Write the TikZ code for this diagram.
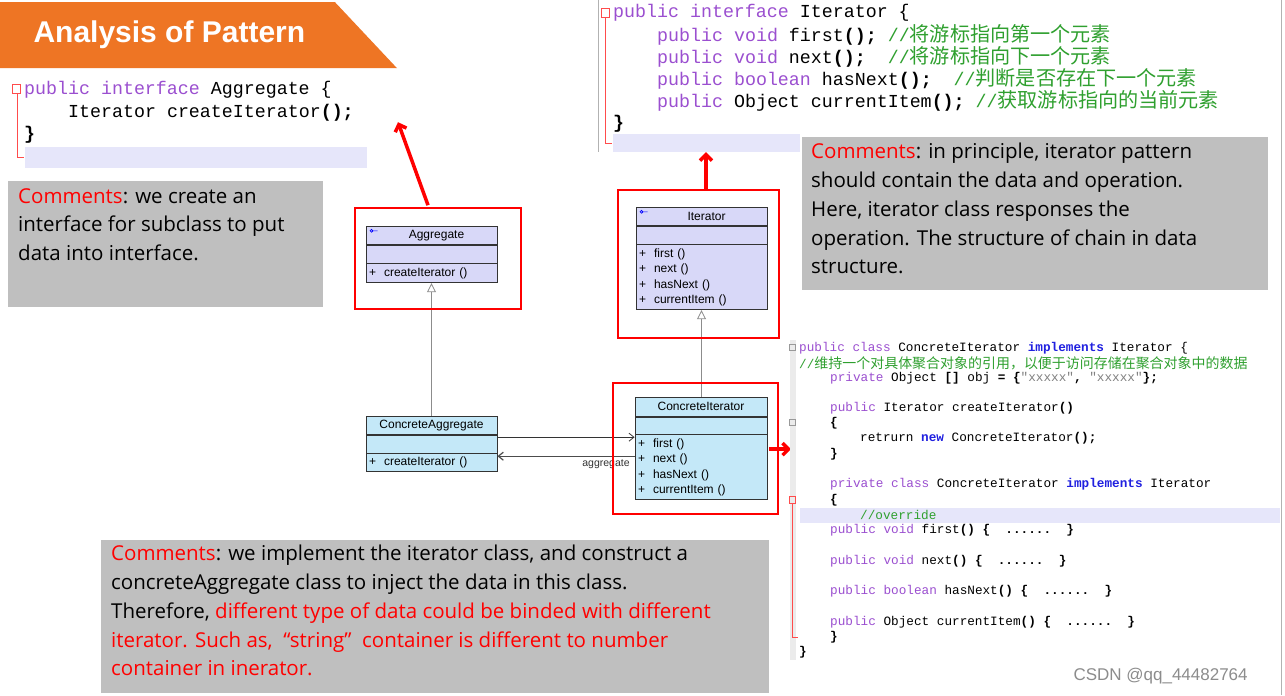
\documentclass[tikz,border=0pt]{standalone}
\usepackage{fontspec}
\setmainfont{Liberation Sans}
\newfontfamily\cjk{Noto Sans CJK SC}[Scale=1.1]
\newfontfamily\mono{Liberation Mono}
\newfontfamily\osans{Open Sans}
\usetikzlibrary{arrows.meta,positioning}
\definecolor{kw}{HTML}{9B4FD0}
\definecolor{cm}{HTML}{2FA02F}
\definecolor{bk}{HTML}{2020E0}
\definecolor{hl}{HTML}{E6E6FA}
\definecolor{gbox}{HTML}{BFBFBF}
\definecolor{lav}{HTML}{D8D8F8}
\definecolor{blu}{HTML}{C4E8F8}
\definecolor{org}{HTML}{EE7524}
\newcommand{\K}[1]{\textcolor{kw}{#1}}
\newcommand{\C}[1]{\textcolor{cm}{#1}}
\newcommand{\B}[1]{\textcolor{bk}{\bfseries #1}}
\newcommand{\R}[1]{\textcolor{red}{#1}}
\begin{document}
\begin{tikzpicture}[x=1pt,y=-1pt,
  code/.style={anchor=west,inner sep=0pt,font=\mono\fontsize{18.3}{19}\selectfont},
  scode/.style={anchor=west,inner sep=0pt,font=\mono\fontsize{12.7}{14}\selectfont},
  gb/.style={fill=gbox,anchor=north west,inner sep=0pt},
  ct/.style={anchor=north west,inner sep=0pt,align=left,font=\osans\fontsize{20.5}{28.7}\selectfont},
  cls/.style={draw=black!80,line width=0.8pt,fill=#1,minimum width=131pt,inner sep=0pt,font=\fontsize{12}{14}\selectfont},
  redbox/.style={draw=red,line width=2pt},
  redarrow/.style={draw=red,line width=3.5pt,-{Straight Barb[length=6pt,width=12pt]}},
  uml/.style={draw=black!45,line width=0.8pt}]
\fill[white] (0,0) rectangle (1285,695);
\draw[black!30] (1281,0) -- (1281,695);
% title
\fill[org] (0,2) -- (335,2) -- (397,68) -- (0,68) -- cycle;
\node[anchor=west,text=white,font=\bfseries\fontsize{30}{32}\selectfont] (title) at (30,35) {Analysis of Pattern};
% Aggregate code
\fill[hl] (25,147) rectangle (367,168);
\draw[red!70] (12,84) rectangle (20,93);\draw[red!70] (17,93) -- (17,157) -- (24,157);
\node[code] (a1) at (24,90) {\K{public interface} Aggregate \{};
\node[code] (a2) at (68,113) {Iterator createIterator\textbf{();}};
\node[code] (a3) at (24,135) {\textbf{\}}};
% Iterator code
\fill[hl] (613,134) rectangle (800,152);
\draw[black!30] (598,0) -- (598,152);
\draw[red!70] (601,8) rectangle (609,17);\draw[red!70] (605,17) -- (605,143) -- (612,143);
\node[code] (i1) at (613,13) {\K{public interface} Iterator \{};
\node[code] (i2) at (657,35) {\K{public void} first\textbf{();} \C{//{\cjk 将游标指向第一个元素}}};
\node[code] (i3) at (657,57) {\K{public void} next\textbf{();}\ \ \C{//{\cjk 将游标指向下一个元素}}};
\node[code] (i4) at (657,79) {\K{public boolean} hasNext\textbf{();}\ \ \C{//{\cjk 判断是否存在下一个元素}}};
\node[code] (i5) at (657,101) {\K{public} Object currentItem\textbf{();} \C{//{\cjk 获取游标指向的当前元素}}};
\node[code] (i6) at (613,124) {\textbf{\}}};
% comments
\node[gb,minimum width=315pt,minimum height=126pt] (c1) at (8,181) {};
\node[ct] (t1) at (18,188) {\R{Comments}: we create an\\interface for subclass to put\\data into interface.};
\node[gb,minimum width=466pt,minimum height=153pt] (c2) at (802,137) {};
\node[ct] (t2) at (811,143) {\R{Comments}: in principle, iterator pattern\\should contain the data and operation.\\Here, iterator class responses the\\operation. The structure of chain in data\\structure.};
\node[gb,minimum width=668pt,minimum height=153pt] (c3) at (101,540) {};
\node[ct] (t3) at (111,545) {\R{Comments}: we implement the iterator class, and construct a\\concreteAggregate class to inject the data in this class.\\Therefore, \R{different type of data could be binded with different}\\\R{iterator. Such as,\ \ “string”\ \ container is different to number}\\\R{container in inerator.}};
% UML classes
\node[cls=lav,minimum height=18pt] (ag) at (431.5,235) {\hspace*{10pt}Aggregate};
\node[cls=lav,minimum height=18pt,below=0pt of ag] (ag2) {};
\node[cls=lav,minimum height=19pt,below=0pt of ag2,align=left,text width=125pt] (ag3) {+\ \ createIterator ()};
\node[cls=lav,minimum height=18pt] (it) at (701.5,216) {\hspace*{10pt}Iterator};
\node[cls=lav,minimum height=18pt,below=0pt of it] (it2) {};
\node[cls=lav,minimum height=65pt,below=0pt of it2,align=left,text width=125pt,font=\fontsize{12}{15.3}\selectfont] (it3) {+\ \ first ()\\+\ \ next ()\\+\ \ hasNext ()\\+\ \ currentItem ()};
\node[cls=blu,minimum height=18pt] (ca) at (431.5,425) {ConcreteAggregate};
\node[cls=blu,minimum height=18pt,below=0pt of ca] (ca2) {};
\node[cls=blu,minimum height=18pt,below=0pt of ca2,align=left,text width=125pt] (ca3) {+\ \ createIterator ()};
\node[cls=blu,minimum height=19pt,minimum width=132pt] (ci) at (701,406.5) {ConcreteIterator};
\node[cls=blu,minimum height=17pt,minimum width=132pt,below=0pt of ci] (ci2) {};
\node[cls=blu,minimum height=65pt,minimum width=132pt,below=0pt of ci2,align=left,text width=126pt,font=\fontsize{12}{15.3}\selectfont] (ci3) {+\ \ first ()\\+\ \ next ()\\+\ \ hasNext ()\\+\ \ currentItem ()};
\foreach \n in {ag,it}{\draw[blue,line width=0.6pt] ([shift={(6,5)}]\n.north west) circle (1.5pt) -- ++(6,0);}
% UML connectors
\draw[uml,-{Triangle[open,length=9pt,width=9pt]}] (ca.north -| ag3.south) -- (ag3.south);
\draw[uml,-{Triangle[open,length=9pt,width=9pt]}] (ci.north -| it3.south) -- (it3.south);
\coordinate (p1) at (ca2.east |- 0,437);
\coordinate (p2) at (ci2.west |- 0,456);
\draw[black!80,line width=0.8pt,-{Straight Barb[length=5pt,width=8pt]}] (p1) -- (p1 -| ci2.west);
\draw[black!70,line width=1.2pt,-{Straight Barb[length=5pt,width=8pt]}] (p2) -- (p2 -| ca2.east);
\node[font=\fontsize{10.5}{12}\selectfont,text=black!80] (agl) at (606,464) {aggregate};
% red boxes
\draw[redbox] (355,208) rectangle (521,309);
\draw[redbox] (618,190) rectangle (779,338);
\draw[redbox] (613,383) rectangle (778,514);
\coordinate (r1) at (428,205); \coordinate (r1e) at (398,122);
\coordinate (r2) at (706,190); \coordinate (r2e) at (706,152);
\coordinate (r3) at (769,449); \coordinate (r3e) at (791,449);
\draw[redarrow] (r1) -- (r1e);
\draw[redarrow] (r2) -- (r2e);
\draw[redarrow] (r3) -- (r3e);
% right code
\fill[black!8] (790,340) rectangle (796,660);
\fill[hl] (800,508) rectangle (1280,523);
\draw[black!40] (789,344) rectangle (795,350);
\draw[black!40] (789,419) rectangle (795,425);
\draw[red!70] (789,496) rectangle (795,503);\draw[red!70] (792,503) -- (792,637) -- (798,637);
\begin{scope}
\clip (790,335) rectangle (1280,665);
\node[scode] (s1) at (799,348) {\K{public class} ConcreteIterator \B{implements} Iterator \{};
\node[scode] (s2) at (799,363) {\C{//{\cjk 维持一个对具体聚合对象的引用，以便于访问存储在聚合对象中的数据}}};
\node[scode] (s3) at (830,378) {\K{private} Object \textbf{[]} obj \textbf{=} \textbf{\{}\textcolor{gray}{"xxxxx"}\textbf{,} \textcolor{gray}{"xxxxx"}\textbf{\};}};
\node[scode] (s4) at (830,408) {\K{public} Iterator createIterator\textbf{()}};
\node[scode] (s5) at (830,423) {\textbf{\{}};
\node[scode] (s6) at (860,438) {retrurn \B{new} ConcreteIterator\textbf{();}};
\node[scode] (s7) at (830,454) {\textbf{\}}};
\node[scode] (s8) at (830,484) {\K{private class} ConcreteIterator \B{implements} Iterator};
\node[scode] (s9) at (830,500) {\textbf{\{}};
\node[scode] (s10) at (860,515) {\C{//override}};
\node[scode] (s11) at (830,530) {\K{public void} first\textbf{()} \textbf{\{}\ \ \textbf{......}\ \ \textbf{\}}};
\node[scode] (s12) at (830,561) {\K{public void} next\textbf{()} \textbf{\{}\ \ \textbf{......}\ \ \textbf{\}}};
\node[scode] (s13) at (830,591) {\K{public boolean} hasNext\textbf{()} \textbf{\{}\ \ \textbf{......}\ \ \textbf{\}}};
\node[scode] (s14) at (830,622) {\K{public} Object currentItem\textbf{()} \textbf{\{}\ \ \textbf{......}\ \ \textbf{\}}};
\node[scode] (s15) at (830,637) {\textbf{\}}};
\node[scode] (s16) at (799,652) {\textbf{\}}};
\end{scope}
\node[anchor=west,text=black!45,font=\fontsize{17}{19}\selectfont] (wm) at (1070,676) {CSDN @qq\_44482764};
\end{tikzpicture}
\end{document}
